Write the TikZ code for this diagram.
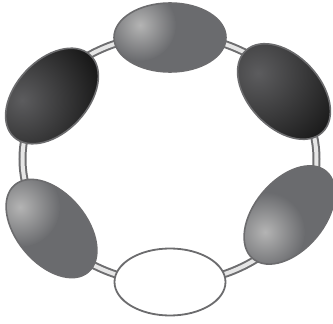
\documentclass[tikz,border=0pt]{standalone}
\usetikzlibrary{shapes.geometric}
\definecolor{ringedge}{HTML}{6E6E70}
\definecolor{ringfill}{HTML}{E6E6E6}
\definecolor{midgray}{HTML}{6A6B6E}
\definecolor{midhl}{HTML}{B4B4B4}
\definecolor{darkbase}{HTML}{1A1A1A}
\definecolor{darkhl}{HTML}{5C5C5E}
\definecolor{edgegray}{HTML}{6C6C6E}
\newcommand\beadshade[8]{%
  \begin{scope}
    \clip[rotate around={#4:(#1)}] (#1) ellipse (#2pt and #3pt);
    \fill[#5] (#1) circle (80pt);
    \shade[inner color=#6, outer color=#5] (#7) circle (#8pt);
  \end{scope}}
\begin{document}
\begin{tikzpicture}[x=1pt,y=-1pt,
  bead/.style={ellipse, draw=edgegray, line width=1.6pt, inner sep=0pt, outer sep=0pt},
  ringouter/.style={ringedge, line width=8pt},
  ringinner/.style={ringfill, line width=4pt}]
\useasboundingbox (0,0) rectangle (333,324);
% ring
\draw[ringouter] (169.5,159) ellipse (147pt and 124pt);
\draw[ringinner] (169.5,159) ellipse (147pt and 124pt);
% shading of beads
\beadshade{170,37.5}{56}{34.5}{0}{midgray}{midhl}{140,25}{36}
\beadshade{52,96}{56}{36}{47}{darkbase}{darkhl}{22,100}{78}
\beadshade{284,91.5}{56}{36}{-47}{darkbase}{darkhl}{258,73}{88}
\beadshade{51.5,228.5}{57}{35}{-50}{midgray}{midhl}{20,207}{40}
\beadshade{289.5,215}{57}{35}{50}{midgray}{midhl}{265,232}{40}
% bead outlines
\node[bead, minimum width=112pt, minimum height=69pt] (top) at (170,37.5) {};
\node[bead, minimum width=112pt, minimum height=72pt, rotate=47] (upleft) at (52,96) {};
\node[bead, minimum width=112pt, minimum height=72pt, rotate=-47] (upright) at (284,91.5) {};
\node[bead, minimum width=114pt, minimum height=70pt, rotate=-50] (lowleft) at (51.5,228.5) {};
\node[bead, minimum width=114pt, minimum height=70pt, rotate=50] (lowright) at (289.5,215) {};
\node[bead, fill=white, line width=1.8pt, minimum width=111pt, minimum height=67pt] (bottom) at (170,282) {};
\end{tikzpicture}
\end{document}
